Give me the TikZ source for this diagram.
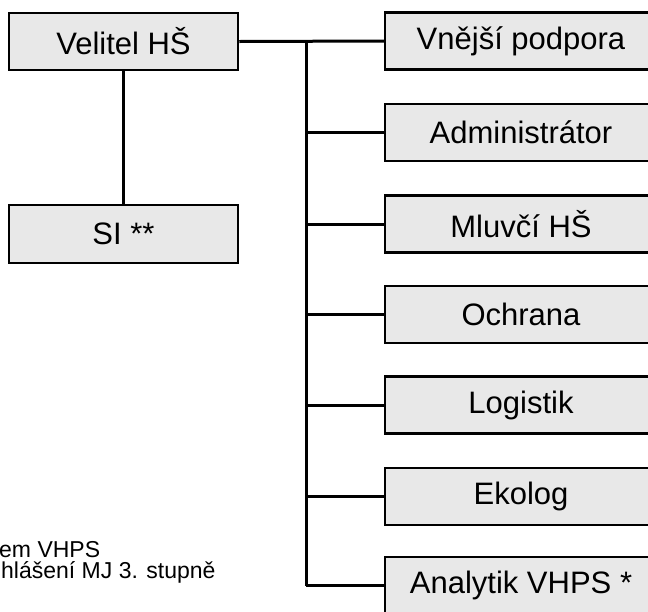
\documentclass[tikz,border=0pt]{standalone}
\usepackage{fontspec}
\setmainfont{Liberation Sans}
\begin{document}
\begin{tikzpicture}[x=1pt,y=-1pt,
  box/.style={draw=black,line width=2.5pt,fill=boxgray,inner sep=0pt,
    minimum height=57pt,font=\fontsize{31}{34}\selectfont},
  leftbox/.style={box,minimum width=229pt},
  rightbox/.style={box,minimum width=272pt},
  conn/.style={line width=3pt},
  note/.style={font=\fontsize{23}{20}\selectfont,anchor=base west,inner sep=0pt}]
\definecolor{boxgray}{HTML}{E8E8E8}
\useasboundingbox (0,0) rectangle (648,611);
\clip (0,0) rectangle (648,611);
\node[leftbox] (vel) at (123.5,41.5) {Velitel HŠ};
\node[leftbox,minimum height=58pt] (si) at (123.5,234) {SI **};
\node[rightbox] (r1) at (521,41) {Vnější podpora};
\node[rightbox] (r2) at (521,132.5) {Administrátor};
\node[rightbox] (r3) at (521,224) {Mluvčí HŠ};
\node[rightbox] (r4) at (521,314.5) {Ochrana};
\node[rightbox] (r5) at (521,405) {Logistik};
\node[rightbox] (r6) at (521,496.5) {Ekolog};
\node[rightbox] (r7) at (521,585.5) {Analytik VHPS *};
\coordinate (top) at (306,41);
\coordinate (bot) at (306,585.5);
\draw[conn] (vel) -- (si);
\draw[conn] (vel.east) -- (r1.west);
\draw[conn] (top) -- (bot);
\foreach \i in {2,...,7}{
  \draw[conn] (r\i.west) -- (306,0 |- r\i.west);
}
\node[note] (n1) at (-1,557) {em VHPS};
\node[note] (n2) at (1,578) {hlášení MJ 3. stupně};
\end{tikzpicture}
\end{document}
